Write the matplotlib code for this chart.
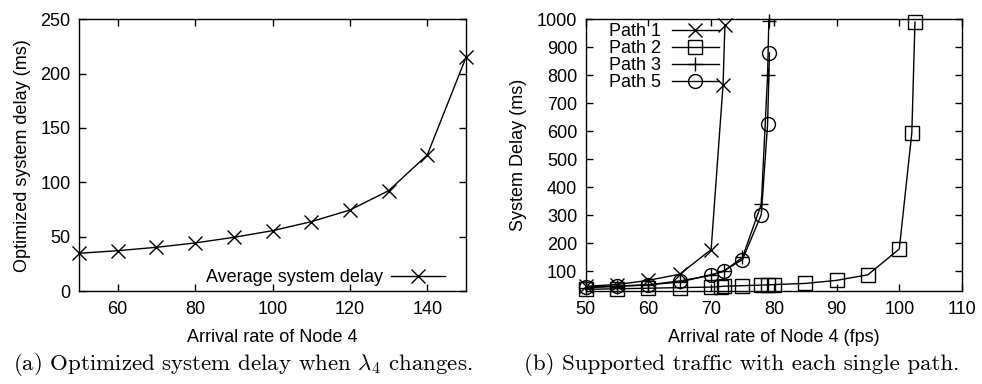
import matplotlib
matplotlib.use("Agg")
import matplotlib.pyplot as plt

plt.rcParams["font.family"] = ["Liberation Sans", "DejaVu Sans"]
plt.rcParams["mathtext.fontset"] = "cm"

# (a) optimized delay vs arrival rate of node 4
rate_a = [50, 60, 70, 80, 90, 100, 110, 120, 130, 140, 150]
avg_delay = [34.7, 37.1, 40.2, 44.2, 49.4, 55.5, 63.8, 74.5, 92.3, 125.2, 215]

# (b) delay per single path
p1_x = [50, 55, 60, 65, 70, 71.9, 72.2]
p1_y = [47, 53, 68, 90, 178, 766, 980]
p2_x = [50, 55, 60, 65, 70, 71.5, 72, 75, 78, 79, 80, 85, 90, 95, 100, 102, 102.5]
p2_y = [36, 38, 40, 42, 44, 46, 47, 49, 51, 52, 53, 57, 68, 88, 180, 595, 990]
p3_x = [50, 55, 60, 65, 70, 72, 75, 78, 79, 79.2]
p3_y = [42, 46, 52, 62, 88, 100, 150, 340, 800, 995]
p5_x = [50, 55, 60, 65, 70, 72, 75, 78, 79, 79.3]
p5_y = [44, 48, 52, 66, 86, 102, 142, 303, 625, 880]

FS = 13
W, H = 982, 384


def style_axes(ax):
    for s in ax.spines.values():
        s.set_linewidth(1.0)
    ax.tick_params(direction="in", length=5, width=1.0, top=True, right=True,
                   labelsize=FS, pad=6)
    ax.tick_params(axis="x", pad=7)


fig = plt.figure(figsize=(W / 100, H / 100), dpi=100)

ax1 = fig.add_axes([79 / W, 1 - 291 / H, (466 - 79) / W, (291 - 19.3) / H])
ax1.plot(rate_a, avg_delay, color="black", lw=1.0, marker="x", ms=10, mew=1.0,
         clip_on=False, label="Average system delay")
ax1.set_xlim(50, 150)
ax1.set_ylim(0, 250)
ax1.set_xticks([60, 80, 100, 120, 140])
ax1.set_yticks([0, 50, 100, 150, 200, 250])
ax1.set_xlabel("Arrival rate of Node 4", fontsize=FS, labelpad=8)
ax1.set_ylabel("Optimized system delay (ms)", fontsize=FS, labelpad=7)
style_axes(ax1)
ax1.legend(loc="center right", bbox_to_anchor=(0.946, 0.048), frameon=False,
           markerfirst=False, fontsize=FS, handlelength=3.0, handletextpad=0.45,
           borderpad=0, borderaxespad=0)

ax2 = fig.add_axes([585.7 / W, 1 - 291 / H, (962 - 585.7) / W, (291 - 19.3) / H])
mk = dict(color="black", lw=1.0, mew=1.0, clip_on=False)
ax2.plot(p1_x, p1_y, marker="x", ms=10, label="Path 1", **mk)
ax2.plot(p2_x, p2_y, marker="s", mfc="none", ms=9.5, label="Path 2", **mk)
ax2.plot(p3_x, p3_y, marker="+", ms=10, label="Path 3", **mk)
ax2.plot(p5_x, p5_y, marker="o", mfc="none", ms=10, label="Path 5", **mk)
ax2.set_xlim(50, 110)
ax2.set_ylim(30, 1000)
ax2.set_xticks(range(50, 111, 10))
ax2.set_yticks(range(100, 1001, 100))
ax2.set_xlabel("Arrival rate of Node 4 (fps)", fontsize=FS, labelpad=8)
ax2.set_ylabel("System Delay (ms)", fontsize=FS, labelpad=7)
style_axes(ax2)
ax2.legend(loc="upper left", bbox_to_anchor=(0.062, 0.985), frameon=False,
           markerfirst=False, fontsize=FS, handlelength=2.6, handletextpad=0.6,
           labelspacing=0.0, borderpad=0, borderaxespad=0)

fig.text(243 / W, 1 - 364 / H,
         r"(a) Optimized system delay when $\lambda_4$ changes.",
         ha="center", va="center", fontsize=16.5, family="cmr10")
fig.text(742 / W, 1 - 364 / H,
         "(b) Supported traffic with each single path.",
         ha="center", va="center", fontsize=16.5, family="cmr10")

fig.savefig("out.png", dpi=100)
